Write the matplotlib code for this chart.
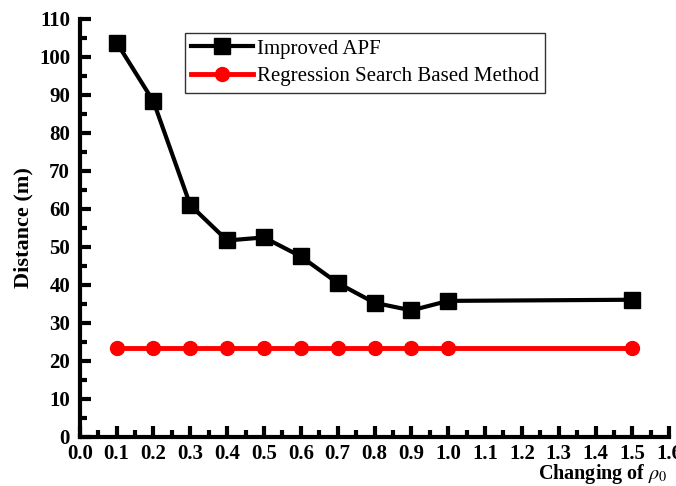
import matplotlib.pyplot as plt
from matplotlib.ticker import MultipleLocator

rho = [0.1, 0.2, 0.3, 0.4, 0.5, 0.6, 0.7, 0.8, 0.9, 1.0, 1.5]
improved_apf = [103.8, 88.3, 61.0, 51.7, 52.5, 47.5, 40.5, 35.3, 33.3, 35.8, 36.1]
regression = [23.5, 23.5, 23.5, 23.5, 23.5, 23.5, 23.5, 23.5, 23.5, 23.5, 23.5]

plt.rcParams["font.family"] = ["Liberation Serif", "DejaVu Serif"]
plt.rcParams["mathtext.fontset"] = "stix"

fig = plt.figure(figsize=(6.76, 4.86), dpi=100)
ax = fig.add_axes([0.118, 0.101, 0.872, 0.860])

ax.plot(rho, improved_apf, color="black", linewidth=3, marker="s",
        markersize=11, label="Improved APF")
ax.plot(rho, regression, color="red", linewidth=3.5, marker="o",
        markersize=10, label="Regression Search Based Method")

ax.set_xlim(0, 1.6)
ax.set_ylim(0, 110)
ax.xaxis.set_major_locator(MultipleLocator(0.1))
ax.xaxis.set_minor_locator(MultipleLocator(0.05))
ax.yaxis.set_major_locator(MultipleLocator(10))
ax.yaxis.set_minor_locator(MultipleLocator(5))
ax.set_xticklabels([f"{v:.1f}" for v in ax.get_xticks()])

for side in ["top", "right"]:
    ax.spines[side].set_visible(False)
for side in ["left", "bottom"]:
    ax.spines[side].set_linewidth(3)

ax.tick_params(which="major", direction="in", length=8, width=3,
               labelsize=15)
ax.tick_params(axis="y", which="major", pad=7)
ax.tick_params(axis="x", which="major", pad=5)
ax.tick_params(which="minor", direction="in", length=5, width=3)
for lbl in ax.get_xticklabels() + ax.get_yticklabels():
    lbl.set_fontweight("bold")

ax.set_ylabel("Distance (m)", fontsize=16, fontweight="bold", labelpad=4)
fig.text(0.988, 0.0, r"Changing of $\rho_0$", ha="right", va="bottom",
         fontsize=14.5, fontweight="bold")

leg = ax.legend(loc="upper left", bbox_to_anchor=(0.178, 0.967),
                fontsize=15, frameon=True, fancybox=False, borderpad=0.3,
                labelspacing=0.4, handlelength=3.0, handletextpad=0.15,
                borderaxespad=0)
leg.get_frame().set_edgecolor("black")
leg.get_frame().set_linewidth(1)

fig.savefig("out.png", dpi=100)
